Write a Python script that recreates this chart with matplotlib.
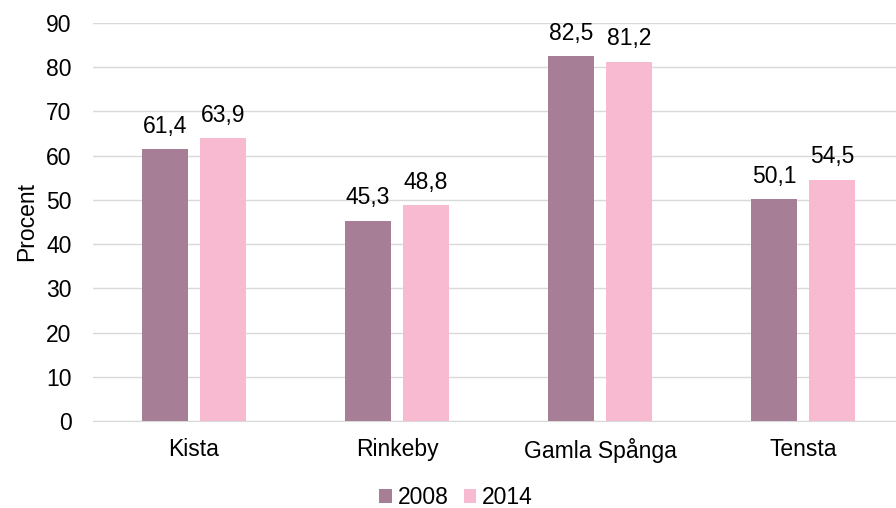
import matplotlib.pyplot as plt
import numpy as np

plt.rcParams['font.family'] = ['Liberation Sans', 'DejaVu Sans']

omraden = ['Kista', 'Rinkeby', 'Gamla Spånga', 'Tensta']
ar = ['2008', '2014']
v2008 = [61.4, 45.3, 82.5, 50.1]
v2014 = [63.9, 48.8, 81.2, 54.5]
farger = ['#A67F96', '#F7BAD0']

fs = 16.5

fig = plt.figure(figsize=(8.96, 5.08), dpi=100)
ax = fig.add_axes([92.5 / 896, 1 - 421 / 508, 1 - 92.5 / 896, 398 / 508])

x = np.arange(len(omraden))
w = 0.227
for i, (vals, lab) in enumerate(zip([v2008, v2014], ar)):
    pos = x + (-0.143 if i == 0 else 0.143)
    bars = ax.bar(pos, vals, width=w, color=farger[i], label=lab, zorder=3)
    for b, v in zip(bars, vals):
        ax.text(b.get_x() + b.get_width() / 2, v + 2.6, f"{v:.1f}".replace('.', ','),
                ha='center', va='bottom', fontsize=fs, color='#000000')

ax.set_xlim(-0.5, 3.5 - 8.5 / 203)
ax.set_ylim(0, 90)
ax.set_yticks(range(0, 91, 10))
ax.set_xticks(x)
ax.set_xticklabels(omraden)
ax.yaxis.grid(True, color='#D9D9D9', linewidth=1, zorder=0)
for s in ax.spines.values():
    s.set_visible(False)
ax.spines['bottom'].set_visible(True)
ax.spines['bottom'].set_color('#D9D9D9')
ax.tick_params(axis='both', length=0, labelsize=fs, colors='#000000')
ax.tick_params(axis='y', pad=15)
ax.tick_params(axis='x', pad=12)
ax.set_ylabel('Procent', fontsize=fs)
ax.yaxis.set_label_coords(-0.068, 0.5)

fig.legend(*ax.get_legend_handles_labels(), loc='center', bbox_to_anchor=(456 / 896, 1 - 498 / 508),
           ncol=2, frameon=False, fontsize=fs, handlelength=0.55, handleheight=0.55,
           handletextpad=0.26, columnspacing=0.65)

fig.savefig('out.png', dpi=100)
